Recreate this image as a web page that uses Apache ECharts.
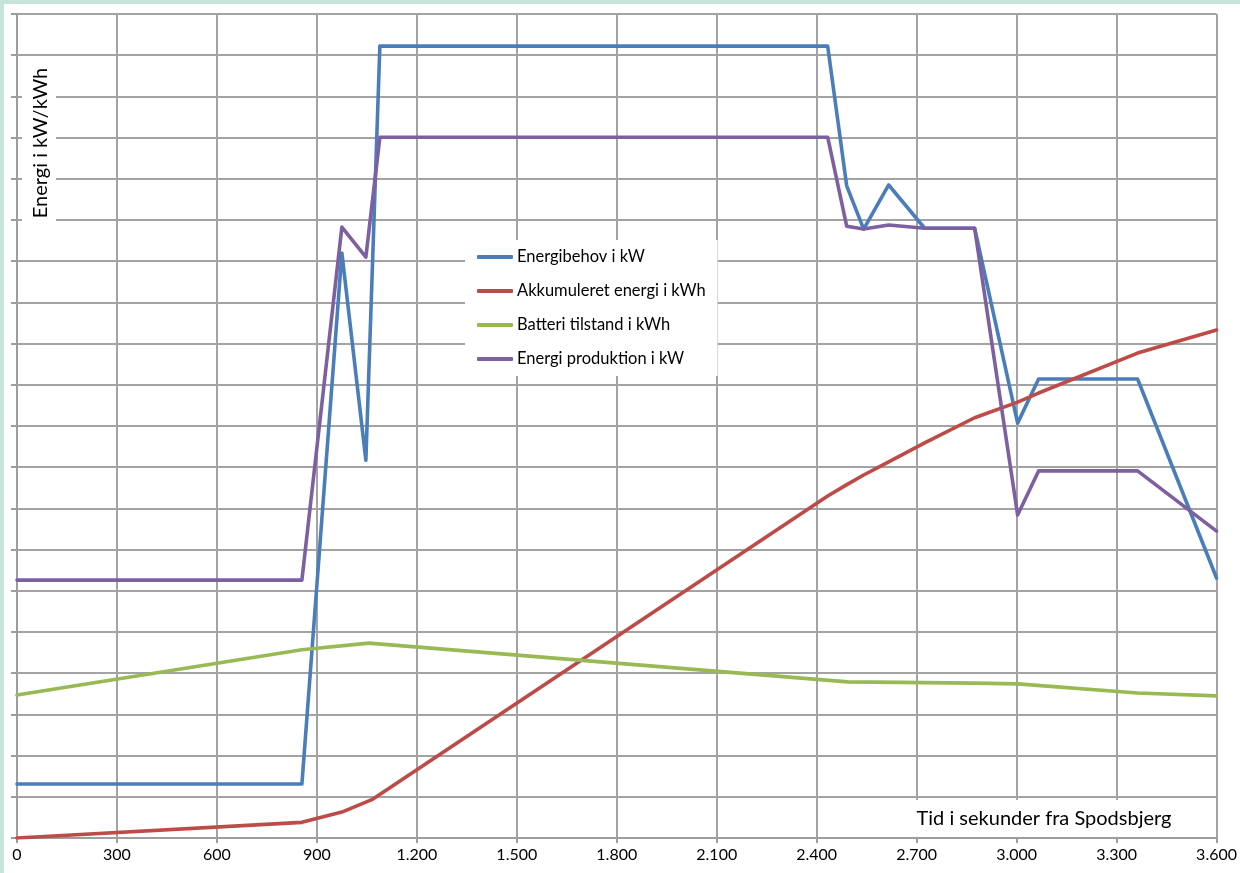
<!DOCTYPE html>
<html>
<head>
<meta charset="utf-8">
<script src="https://cdn.jsdelivr.net/npm/echarts@6/dist/echarts.min.js"></script>
<style>
html,body{margin:0;padding:0;background:#fff;}
#chart{width:1240px;height:873px;}
</style>
</head>
<body>
<div id="chart"></div>
<script>
// X tick labels every 300 s, 0..3600
const xTicks = [0,300,600,900,1200,1500,1800,2100,2400,2700,3000,3300,3600];

const seriesNames = ['Energibehov i kW','Akkumuleret energi i kWh','Batteri tilstand i kWh','Energi produktion i kW'];

const behovT = [0,855,975,1047,1089,2433,2490,2541,2616,2724,2874,3003,3066,3363,3600];
const behovV = [1.31,1.31,14.2,9.17,19.22,19.22,15.83,14.78,15.85,14.8,14.8,10.07,11.14,11.14,6.31];

const akkT = [0,855,975,1065,2433,2493,2541,2616,2724,2874,3003,3066,3363,3600];
const akkV = [0,0.38,0.63,0.93,8.3,8.59,8.81,9.13,9.59,10.2,10.58,10.8,11.77,12.33];

const batT = [0,855,1056,2493,2874,3003,3363,3600];
const batV = [3.47,4.57,4.73,3.79,3.76,3.74,3.52,3.45];

const prodT = [0,855,975,1047,1089,2433,2490,2541,2616,2724,2874,3003,3066,3363,3600];
const prodV = [6.26,6.26,14.83,14.1,17.01,17.01,14.85,14.78,14.88,14.8,14.8,7.84,8.91,8.91,7.45];

const colors = ['#4a7ebb','#be4b48','#98b954','#7d60a0'];

function pairs(t, v){ return t.map((x,i)=>[x, v[i]]); }
function fmt(v){
  if (v >= 1000) { return Math.floor(v/1000) + '.' + String(v % 1000).padStart(3,'0'); }
  return String(v);
}

const FONT = 'Lato, "Liberation Sans", sans-serif';
const chart = echarts.init(document.getElementById('chart'), null, {renderer:'canvas'});

const data = [pairs(behovT,behovV), pairs(akkT,akkV), pairs(batT,batV), pairs(prodT,prodV)];

chart.setOption({
  animation: false,
  backgroundColor: '#ffffff',
  color: colors,
  grid: {left: 17, right: 23, top: 14, bottom: 35, containLabel: false},
  xAxis: {
    type: 'value', min: xTicks[0], max: xTicks[xTicks.length-1], interval: 300,
    axisLine: {show: true, lineStyle: {color: '#9d9d9d', width: 2}},
    axisTick: {show: true, length: 5, lineStyle: {color: '#9d9d9d', width: 2}},
    axisLabel: {color: '#000', fontSize: 16, fontFamily: FONT, margin: 9, formatter: fmt},
    splitLine: {show: true, lineStyle: {color: '#a3a3a3', width: 2}}
  },
  yAxis: {
    type: 'value', min: 0, max: 20, interval: 1,
    axisLine: {show: true, lineStyle: {color: '#9d9d9d', width: 2}},
    axisTick: {show: true, length: 6, lineStyle: {color: '#9d9d9d', width: 2}},
    axisLabel: {show: false},
    splitLine: {show: true, lineStyle: {color: '#a3a3a3', width: 2}}
  },
  legend: {
    show: true, orient: 'vertical', left: 465, top: 240,
    data: seriesNames,
    backgroundColor: '#ffffff',
    padding: [8, 12, 8, 12],
    icon: 'roundRect', itemWidth: 36, itemHeight: 4, itemGap: 16,
    textStyle: {color: '#000', fontSize: 16.5, fontFamily: FONT, lineHeight: 18, padding: [0,0,0,-1]},
    z: 10
  },
  series: seriesNames.map((n,i)=>({
    name: n, type: 'line', data: data[i],
    showSymbol: false, symbol: 'none',
    lineStyle: {width: 3.6, color: colors[i], join: 'round', cap: 'round'},
    itemStyle: {color: colors[i]},
    z: 3 + i
  })),
  graphic: [
    {type: 'rect', left: 0, top: 0, shape: {width: 1240, height: 4}, style: {fill: '#c6e4d9'}, z: 100},
    {type: 'rect', left: 0, top: 0, shape: {width: 4, height: 873}, style: {fill: '#c6e4d9'}, z: 100},
    {type: 'rect', shape: {x: 22, y: 61, width: 34, height: 165}, style: {fill: '#ffffff'}, z: 50},
    {type: 'text', x: 41, y: 143, rotation: Math.PI/2,
     style: {text: 'Energi i kW/kWh', fill: '#000', font: '20px ' + FONT, textAlign: 'center', textVerticalAlign: 'middle'}, z: 51},
    {type: 'rect', shape: {x: 908, y: 800, width: 274, height: 37}, style: {fill: '#ffffff'}, z: 50},
    {type: 'text', x: 1044, y: 819,
     style: {text: 'Tid i sekunder fra Spodsbjerg', fill: '#000', font: '20px ' + FONT, textAlign: 'center', textVerticalAlign: 'middle'}, z: 51}
  ]
});
</script>
</body>
</html>
